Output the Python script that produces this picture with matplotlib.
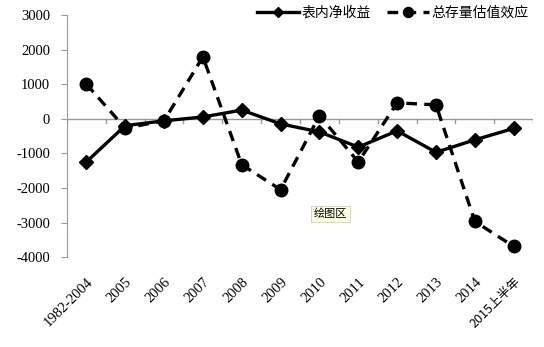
import numpy as np
import matplotlib.pyplot as plt

plt.rcParams['font.family'] = 'Liberation Serif'
plt.rcParams['axes.unicode_minus'] = False
CJK = ['Noto Sans CJK SC']

categories = ['1982-2004', '2005', '2006', '2007', '2008', '2009', '2010',
              '2011', '2012', '2013', '2014', '2015上半年']
net_income = [-1250, -200, -60, 50, 250, -150, -380, -820, -350, -970, -610, -280]
valuation = [1000, -270, -60, 1790, -1330, -2050, 90, -1250, 460, 400, -2970, -3690]

x = np.arange(len(categories))

fig = plt.figure(figsize=(5.44, 3.47), dpi=100)
ax = fig.add_axes([0.123, 0.259, 0.857, 0.698])

ax.plot(x, net_income, color='black', lw=2.4, marker='D', ms=7,
        label='表内净收益', zorder=3)
ax.plot(x, valuation, color='black', lw=2.4, ls=(0, (3.2, 2.2)), marker='o',
        ms=9, label='总存量估值效应', zorder=4)

ax.set_xlim(-0.5, len(categories) - 0.5)
ax.set_ylim(-4000, 3000)
ax.set_yticks(np.arange(-4000, 3001, 1000))

# x axis sits on zero line, labels stay at bottom
ax.axhline(0, color='#999999', lw=1, zorder=1)
for b in np.arange(-0.5, len(categories), 1.0):
    ax.plot([b, b], [0, -110], color='#999999', lw=1, zorder=1)

ax.set_xticks(x)
ax.set_xticklabels(categories, rotation=45, ha='right', rotation_mode='anchor',
                   fontsize=10.5)
ax.tick_params(axis='x', length=0, pad=13)
ax.tick_params(axis='y', length=4, color='#999999', pad=8, labelsize=10.5)
for t in ax.get_xticklabels():
    if not t.get_text().isascii():
        t.set_fontfamily(CJK)
        t.set_fontsize(9)

for s in ['top', 'right', 'bottom']:
    ax.spines[s].set_visible(False)
ax.spines['left'].set_color('#999999')

fig.legend(loc='center right', bbox_to_anchor=(0.985, 1 - 13 / 347), ncol=2,
           frameon=False, handlelength=3, columnspacing=1.2,
           handletextpad=0.2, borderpad=0, markerscale=0.8,
           prop={'family': CJK, 'size': 10})

fig.text(0.608, 0.383, '绘图区', fontsize=8, family=CJK,
         va='center', ha='center',
         bbox=dict(boxstyle='square,pad=0.25', fc='#ffffe1', ec='#d0d0c0', lw=0.6))

fig.savefig('out.png', dpi=100)
